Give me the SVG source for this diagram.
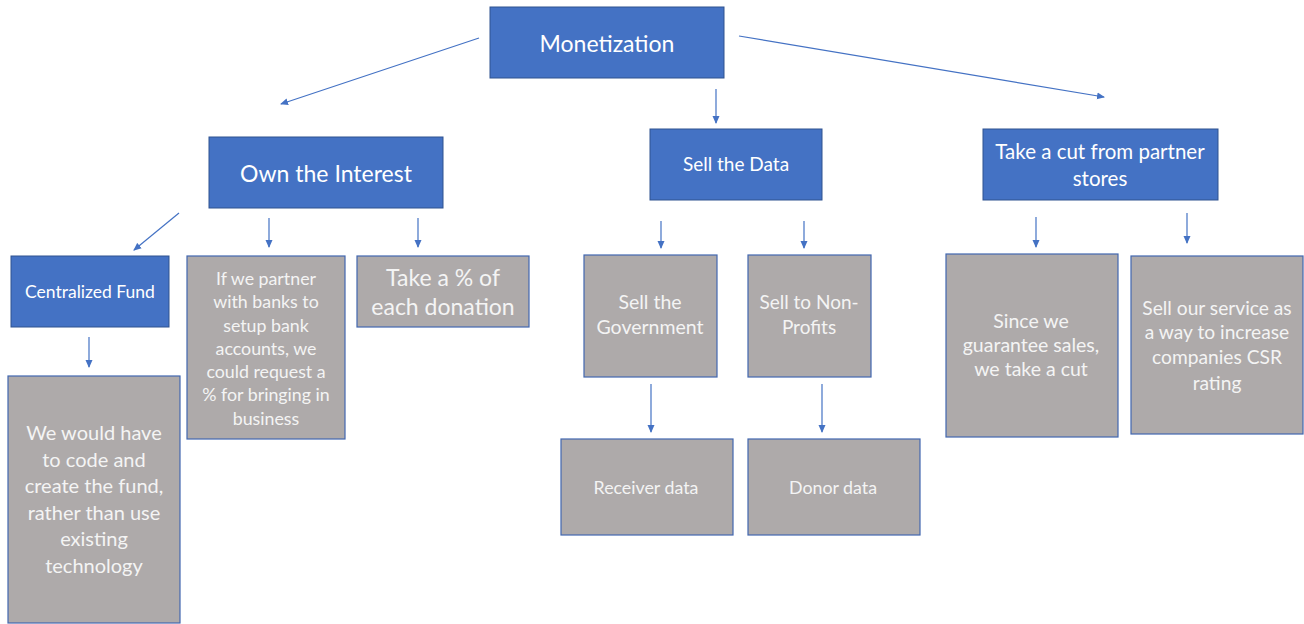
<svg xmlns="http://www.w3.org/2000/svg" width="1304" height="624" viewBox="0 0 1304 624">
<defs>
<marker id="ah" markerWidth="8" markerHeight="8" refX="7" refY="4" orient="auto" markerUnits="userSpaceOnUse">
<path d="M0,0.5 L8,4 L0,7.5 Z" fill="#4472C4"/>
</marker>
</defs>
<style>
.b{fill:#4472C4;stroke:#2F528F;stroke-width:1}
.g{fill:#AEAAAA;stroke:#4167B0;stroke-width:1.2}
text{font-family:Lato,"Open Sans",sans-serif;fill:#FFFFFF;text-anchor:middle}
.gt{fill:#F4F4F4}
.c{stroke:#4472C4;stroke-width:1.2;fill:none;marker-end:url(#ah)}
</style>
<rect width="1304" height="624" fill="#FFFFFF"/>
<g id="connectors">
<line class="c" x1="479" y1="38" x2="281" y2="104"/>
<line class="c" x1="716" y1="89" x2="716" y2="123"/>
<line class="c" x1="739" y1="36" x2="1104" y2="97"/>
<line class="c" x1="179" y1="213" x2="134" y2="250"/>
<line class="c" x1="269" y1="218" x2="269" y2="247"/>
<line class="c" x1="418" y1="218" x2="418" y2="247"/>
<line class="c" x1="661" y1="221" x2="661" y2="248"/>
<line class="c" x1="804" y1="221" x2="804" y2="248"/>
<line class="c" x1="651" y1="384" x2="651" y2="432"/>
<line class="c" x1="822" y1="384" x2="822" y2="432"/>
<line class="c" x1="89" y1="337" x2="89" y2="367"/>
<line class="c" x1="1036" y1="217" x2="1036" y2="247"/>
<line class="c" x1="1187" y1="213" x2="1187" y2="243"/>
</g>
<g id="monetization"><rect class="b" x="490" y="7" width="234" height="71"/><text x="607" y="52" font-size="23">Monetization</text></g>
<g id="own-interest"><rect class="b" x="209" y="137" width="234" height="71"/><text x="326" y="182" font-size="23">Own the Interest</text></g>
<g id="sell-data"><rect class="b" x="650" y="129" width="172" height="71"/><text x="736" y="171" font-size="19">Sell the Data</text></g>
<g id="take-cut"><rect class="b" x="983" y="129" width="235" height="71"/><text x="1100" y="159" font-size="20.5">Take a cut from partner</text><text x="1100" y="186" font-size="20.5">stores</text></g>
<g id="centralized-fund"><rect class="b" x="11" y="256" width="158" height="71"/><text x="90" y="298" font-size="17.5">Centralized Fund</text></g>
<g id="partner-banks"><rect class="g" x="187" y="256" width="158" height="183"/>
<text class="gt" font-size="17.8"><tspan x="266" y="285">If we partner</tspan><tspan x="266" y="308">with banks to</tspan><tspan x="266" y="332">setup bank</tspan><tspan x="266" y="355">accounts, we</tspan><tspan x="266" y="378">could request a</tspan><tspan x="266" y="401">% for bringing in</tspan><tspan x="266" y="425">business</tspan></text></g>
<g id="take-percent"><rect class="g" x="357" y="256" width="172" height="71"/>
<text class="gt" font-size="23"><tspan x="443" y="286">Take a % of</tspan><tspan x="443" y="315">each donation</tspan></text></g>
<g id="code-fund"><rect class="g" x="8" y="376" width="172" height="247"/>
<text class="gt" font-size="20"><tspan x="94" y="440">We would have</tspan><tspan x="94" y="467">to code and</tspan><tspan x="94" y="493">create the fund,</tspan><tspan x="94" y="520">rather than use</tspan><tspan x="94" y="546">existing</tspan><tspan x="94" y="573">technology</tspan></text></g>
<g id="sell-government"><rect class="g" x="584" y="255" width="133" height="122"/>
<text class="gt" font-size="19.5"><tspan x="650" y="309">Sell the</tspan><tspan x="650" y="334">Government</tspan></text></g>
<g id="sell-nonprofits"><rect class="g" x="748" y="255" width="123" height="122"/>
<text class="gt" font-size="19"><tspan x="809" y="309">Sell to Non-</tspan><tspan x="809" y="334">Profits</tspan></text></g>
<g id="receiver-data"><rect class="g" x="561" y="439" width="172" height="96"/><text class="gt" x="646" y="494" font-size="17.8">Receiver data</text></g>
<g id="donor-data"><rect class="g" x="748" y="439" width="172" height="96"/><text class="gt" x="833" y="494" font-size="17.8">Donor data</text></g>
<g id="guarantee-sales"><rect class="g" x="946" y="254" width="172" height="183"/>
<text class="gt" font-size="19.5"><tspan x="1031" y="328">Since we</tspan><tspan x="1031" y="352">guarantee sales,</tspan><tspan x="1031" y="376">we take a cut</tspan></text></g>
<g id="csr-rating"><rect class="g" x="1131" y="256" width="172" height="178"/>
<text class="gt" font-size="19.2"><tspan x="1217" y="315">Sell our service as</tspan><tspan x="1217" y="339">a way to increase</tspan><tspan x="1217" y="364">companies CSR</tspan><tspan x="1217" y="390">rating</tspan></text></g>
</svg>
